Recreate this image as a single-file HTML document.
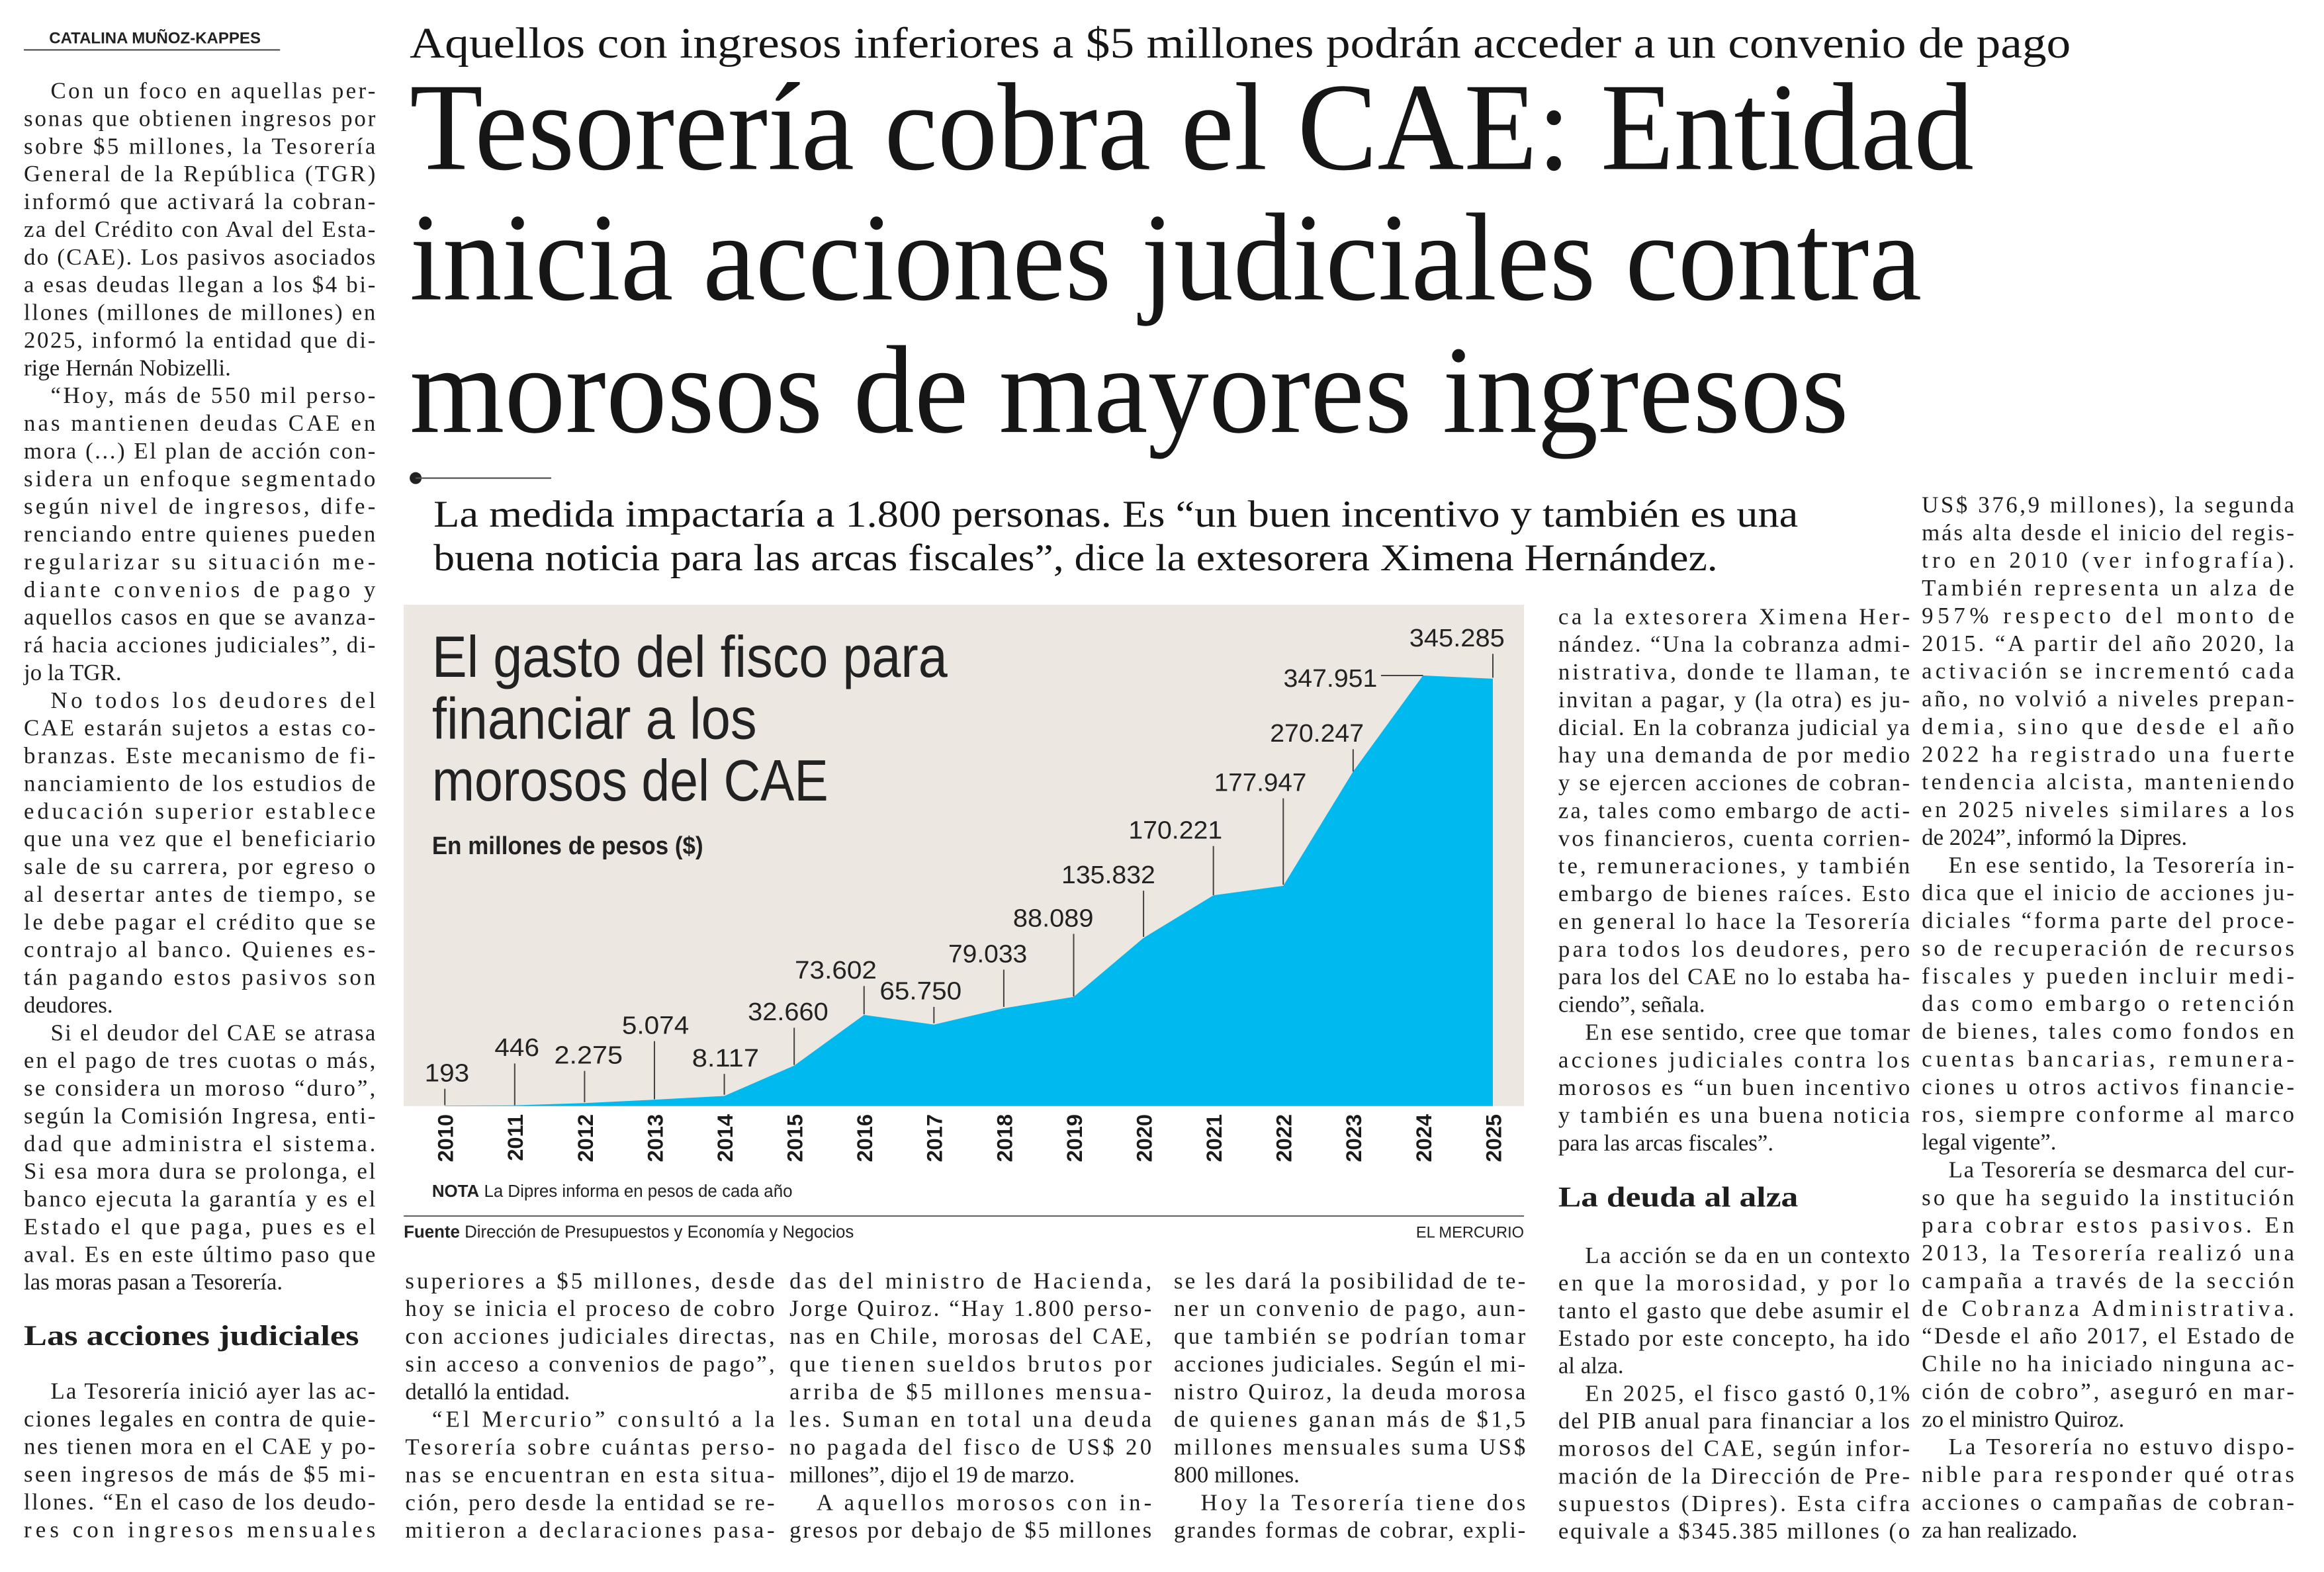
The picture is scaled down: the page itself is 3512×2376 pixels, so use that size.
<!DOCTYPE html>
<html><head><meta charset="utf-8">
<style>
html,body{margin:0;padding:0;background:#fff;}
svg{display:block;}
.b{font-family:"Liberation Serif",serif;font-size:15.5px;fill:#1e1e1e;}
.h{font-family:"Liberation Serif",serif;fill:#161616;}
.n{font-family:"Liberation Sans Narrow","Liberation Sans",sans-serif;fill:#222;}
.y{font-family:"Liberation Sans","Liberation Sans Narrow",sans-serif;font-weight:bold;font-size:14.5px;fill:#1a1a1a;}
</style></head>
<body>
<svg width="3512" height="2376" viewBox="0 0 1560 1055.4" xmlns="http://www.w3.org/2000/svg">
<rect x="0" y="0" width="1560" height="1056" fill="#fff"/>
<!-- byline -->
<text x="33" y="29" class="n" font-size="10.5" font-weight="bold" textLength="142" lengthAdjust="spacingAndGlyphs">CATALINA MUÑOZ-KAPPES</text>
<line x1="16" y1="33.5" x2="188" y2="33.5" stroke="#333" stroke-width="0.8"/>
<!-- deck -->
<text x="275" y="38.7" class="h" font-size="29" textLength="1115" lengthAdjust="spacingAndGlyphs">Aquellos con ingresos inferiores a $5 millones podrán acceder a un convenio de pago</text>
<!-- headline -->
<text x="275" y="113.5" class="h" font-size="84" textLength="1050" lengthAdjust="spacingAndGlyphs">Tesorería cobra el CAE: Entidad</text>
<text x="275" y="201" class="h" font-size="84" textLength="1015" lengthAdjust="spacingAndGlyphs">inicia acciones judiciales contra</text>
<text x="275" y="290" class="h" font-size="84" textLength="966" lengthAdjust="spacingAndGlyphs">morosos de mayores ingresos</text>
<circle cx="279" cy="321" r="4" fill="#222"/>
<line x1="279" y1="321" x2="370" y2="321" stroke="#555" stroke-width="1"/>
<!-- subhead -->
<text x="291" y="353.5" class="h" font-size="25.5" textLength="916" lengthAdjust="spacingAndGlyphs">La medida impactaría a 1.800 personas. Es “un buen incentivo y también es una</text>
<text x="291" y="383" class="h" font-size="25.5" textLength="862" lengthAdjust="spacingAndGlyphs">buena noticia para las arcas fiscales”, dice la extesorera Ximena Hernández.</text>

<!-- LEFT COLUMN -->
<g class="b">
<text x="34" y="66" textLength="218">Con un foco en aquellas per-</text>
<text x="16" y="84.6" textLength="236">sonas que obtienen ingresos por</text>
<text x="16" y="103.2" textLength="236">sobre $5 millones, la Tesorería</text>
<text x="16" y="121.8" textLength="236">General de la República (TGR)</text>
<text x="16" y="140.4" textLength="236">informó que activará la cobran-</text>
<text x="16" y="159" textLength="236">za del Crédito con Aval del Esta-</text>
<text x="16" y="177.6" textLength="236">do (CAE). Los pasivos asociados</text>
<text x="16" y="196.2" textLength="236">a esas deudas llegan a los $4 bi-</text>
<text x="16" y="214.8" textLength="236">llones (millones de millones) en</text>
<text x="16" y="233.4" textLength="236">2025, informó la entidad que di-</text>
<text x="16" y="252">rige Hernán Nobizelli.</text>
<text x="34" y="270.6" textLength="218">“Hoy, más de 550 mil perso-</text>
<text x="16" y="289.2" textLength="236">nas mantienen deudas CAE en</text>
<text x="16" y="307.8" textLength="236">mora (...) El plan de acción con-</text>
<text x="16" y="326.4" textLength="236">sidera un enfoque segmentado</text>
<text x="16" y="345" textLength="236">según nivel de ingresos, dife-</text>
<text x="16" y="363.6" textLength="236">renciando entre quienes pueden</text>
<text x="16" y="382.2" textLength="236">regularizar su situación me-</text>
<text x="16" y="400.8" textLength="236">diante convenios de pago y</text>
<text x="16" y="419.4" textLength="236">aquellos casos en que se avanza-</text>
<text x="16" y="438" textLength="236">rá hacia acciones judiciales”, di-</text>
<text x="16" y="456.6">jo la TGR.</text>
<text x="34" y="475.2" textLength="218">No todos los deudores del</text>
<text x="16" y="493.8" textLength="236">CAE estarán sujetos a estas co-</text>
<text x="16" y="512.4" textLength="236">branzas. Este mecanismo de fi-</text>
<text x="16" y="531" textLength="236">nanciamiento de los estudios de</text>
<text x="16" y="549.6" textLength="236">educación superior establece</text>
<text x="16" y="568.2" textLength="236">que una vez que el beneficiario</text>
<text x="16" y="586.8" textLength="236">sale de su carrera, por egreso o</text>
<text x="16" y="605.4" textLength="236">al desertar antes de tiempo, se</text>
<text x="16" y="624" textLength="236">le debe pagar el crédito que se</text>
<text x="16" y="642.6" textLength="236">contrajo al banco. Quienes es-</text>
<text x="16" y="661.2" textLength="236">tán pagando estos pasivos son</text>
<text x="16" y="679.8">deudores.</text>
<text x="34" y="698.4" textLength="218">Si el deudor del CAE se atrasa</text>
<text x="16" y="717" textLength="236">en el pago de tres cuotas o más,</text>
<text x="16" y="735.6" textLength="236">se considera un moroso “duro”,</text>
<text x="16" y="754.2" textLength="236">según la Comisión Ingresa, enti-</text>
<text x="16" y="772.8" textLength="236">dad que administra el sistema.</text>
<text x="16" y="791.4" textLength="236">Si esa mora dura se prolonga, el</text>
<text x="16" y="810" textLength="236">banco ejecuta la garantía y es el</text>
<text x="16" y="828.6" textLength="236">Estado el que paga, pues es el</text>
<text x="16" y="847.2" textLength="236">aval. Es en este último paso que</text>
<text x="16" y="865.8">las moras pasan a Tesorería.</text>
<text x="16" y="903" font-size="19.5" font-weight="bold" textLength="225" lengthAdjust="spacingAndGlyphs">Las acciones judiciales</text>
<text x="34" y="939" textLength="218">La Tesorería inició ayer las ac-</text>
<text x="16" y="957.6" textLength="236">ciones legales en contra de quie-</text>
<text x="16" y="976.2" textLength="236">nes tienen mora en el CAE y po-</text>
<text x="16" y="994.8" textLength="236">seen ingresos de más de $5 mi-</text>
<text x="16" y="1013.4" textLength="236">llones. “En el caso de los deudo-</text>
<text x="16" y="1032" textLength="236">res con ingresos mensuales</text>
</g>

<!-- CHART -->
<rect x="271" y="406" width="752" height="336.6" fill="#ece7e1"/>
<text x="290" y="454.3" class="n" font-size="39" textLength="346" lengthAdjust="spacingAndGlyphs">El gasto del fisco para</text>
<text x="290" y="496" class="n" font-size="39" textLength="218" lengthAdjust="spacingAndGlyphs">financiar a los</text>
<text x="290" y="537.5" class="n" font-size="39" textLength="266" lengthAdjust="spacingAndGlyphs">morosos del CAE</text>
<text x="290" y="573.5" class="n" font-size="17" font-weight="bold" textLength="182" lengthAdjust="spacingAndGlyphs">En millones de pesos ($)</text>
<polygon fill="#00b9ee" points="298.6,742.6 298.6,742.3 345.5,742.1 392.4,740.6 439.3,738.3 486.2,735.8 533.1,715.4 580,681.4 626.9,687.9 673.8,676.9 720.7,669.3 767.6,629.7 814.5,601.1 861.4,594.7 908.3,518 955.2,453.5 1002.1,455.7 1002.1,742.6"/>
<g stroke="#444" stroke-width="0.9">
<line x1="298.6" y1="742" x2="298.6" y2="731"/>
<line x1="345.5" y1="742" x2="345.5" y2="714"/>
<line x1="392.4" y1="740" x2="392.4" y2="719"/>
<line x1="439.3" y1="738" x2="439.3" y2="699"/>
<line x1="486.2" y1="735" x2="486.2" y2="721"/>
<line x1="533.1" y1="715" x2="533.1" y2="690"/>
<line x1="580" y1="681" x2="580" y2="662"/>
<line x1="626.9" y1="687" x2="626.9" y2="676"/>
<line x1="673.8" y1="676" x2="673.8" y2="651"/>
<line x1="720.7" y1="669" x2="720.7" y2="627"/>
<line x1="767.6" y1="629" x2="767.6" y2="598"/>
<line x1="814.5" y1="601" x2="814.5" y2="568"/>
<line x1="861.4" y1="594" x2="861.4" y2="536"/>
<line x1="908.3" y1="518" x2="908.3" y2="503"/>
<line x1="927" y1="453.5" x2="955.2" y2="453.5"/>
<line x1="1002.1" y1="455" x2="1002.1" y2="439"/>
</g>
<g class="n" font-size="17" text-anchor="middle" lengthAdjust="spacingAndGlyphs">
<text x="300" y="726" textLength="30" lengthAdjust="spacingAndGlyphs">193</text>
<text x="347" y="709" textLength="30" lengthAdjust="spacingAndGlyphs">446</text>
<text x="395" y="714" textLength="46" lengthAdjust="spacingAndGlyphs">2.275</text>
<text x="440" y="694" textLength="45" lengthAdjust="spacingAndGlyphs">5.074</text>
<text x="487" y="716" textLength="45" lengthAdjust="spacingAndGlyphs">8.117</text>
<text x="529" y="685" textLength="54" lengthAdjust="spacingAndGlyphs">32.660</text>
<text x="561" y="657" textLength="55" lengthAdjust="spacingAndGlyphs">73.602</text>
<text x="618" y="671" textLength="55" lengthAdjust="spacingAndGlyphs">65.750</text>
<text x="663" y="646" textLength="53" lengthAdjust="spacingAndGlyphs">79.033</text>
<text x="707" y="622" textLength="54" lengthAdjust="spacingAndGlyphs">88.089</text>
<text x="744" y="593" textLength="63" lengthAdjust="spacingAndGlyphs">135.832</text>
<text x="789" y="563" textLength="63" lengthAdjust="spacingAndGlyphs">170.221</text>
<text x="846" y="531" textLength="62" lengthAdjust="spacingAndGlyphs">177.947</text>
<text x="884" y="498" textLength="63" lengthAdjust="spacingAndGlyphs">270.247</text>
<text x="893" y="461" textLength="63" lengthAdjust="spacingAndGlyphs">347.951</text>
<text x="978" y="434" textLength="64" lengthAdjust="spacingAndGlyphs">345.285</text>
</g>
<g class="y" text-anchor="end">
<text transform="translate(304,748) rotate(-90)">2010</text>
<text transform="translate(351,748) rotate(-90)">2011</text>
<text transform="translate(398,748) rotate(-90)">2012</text>
<text transform="translate(444.8,748) rotate(-90)">2013</text>
<text transform="translate(491.7,748) rotate(-90)">2014</text>
<text transform="translate(538.6,748) rotate(-90)">2015</text>
<text transform="translate(585.5,748) rotate(-90)">2016</text>
<text transform="translate(632.4,748) rotate(-90)">2017</text>
<text transform="translate(679.3,748) rotate(-90)">2018</text>
<text transform="translate(726.2,748) rotate(-90)">2019</text>
<text transform="translate(773.1,748) rotate(-90)">2020</text>
<text transform="translate(820,748) rotate(-90)">2021</text>
<text transform="translate(866.9,748) rotate(-90)">2022</text>
<text transform="translate(913.8,748) rotate(-90)">2023</text>
<text transform="translate(960.7,748) rotate(-90)">2024</text>
<text transform="translate(1007.6,748) rotate(-90)">2025</text>
</g>
<text x="290" y="803.5" class="n" font-size="11.5"><tspan font-weight="bold">NOTA</tspan>  La Dipres informa en pesos de cada año</text>
<line x1="271" y1="816.4" x2="1023" y2="816.4" stroke="#555" stroke-width="0.8"/>
<text x="271" y="830.8" class="n" font-size="11.5"><tspan font-weight="bold">Fuente</tspan>  Dirección de Presupuestos y Economía y Negocios</text>
<text x="1023" y="830.8" class="n" font-size="10.5" text-anchor="end">EL MERCURIO</text>

<!-- MIDDLE COLUMN -->
<g class="b">
<text x="1046" y="419" textLength="236">ca la extesorera Ximena Her-</text>
<text x="1046" y="437.6" textLength="236">nández. “Una la cobranza admi-</text>
<text x="1046" y="456.2" textLength="236">nistrativa, donde te llaman, te</text>
<text x="1046" y="474.8" textLength="236">invitan a pagar, y (la otra) es ju-</text>
<text x="1046" y="493.4" textLength="236">dicial. En la cobranza judicial ya</text>
<text x="1046" y="512" textLength="236">hay una demanda de por medio</text>
<text x="1046" y="530.6" textLength="236">y se ejercen acciones de cobran-</text>
<text x="1046" y="549.2" textLength="236">za, tales como embargo de acti-</text>
<text x="1046" y="567.8" textLength="236">vos financieros, cuenta corrien-</text>
<text x="1046" y="586.4" textLength="236">te, remuneraciones, y también</text>
<text x="1046" y="605" textLength="236">embargo de bienes raíces. Esto</text>
<text x="1046" y="623.6" textLength="236">en general lo hace la Tesorería</text>
<text x="1046" y="642.2" textLength="236">para todos los deudores, pero</text>
<text x="1046" y="660.8" textLength="236">para los del CAE no lo estaba ha-</text>
<text x="1046" y="679.4">ciendo”, señala.</text>
<text x="1064" y="698" textLength="218">En ese sentido, cree que tomar</text>
<text x="1046" y="716.6" textLength="236">acciones judiciales contra los</text>
<text x="1046" y="735.2" textLength="236">morosos es “un buen incentivo</text>
<text x="1046" y="753.8" textLength="236">y también es una buena noticia</text>
<text x="1046" y="772.4">para las arcas fiscales”.</text>
<text x="1046" y="810" font-size="19.5" font-weight="bold" textLength="161" lengthAdjust="spacingAndGlyphs">La deuda al alza</text>
<text x="1064" y="848" textLength="218">La acción se da en un contexto</text>
<text x="1046" y="866.5" textLength="236">en que la morosidad, y por lo</text>
<text x="1046" y="885" textLength="236">tanto el gasto que debe asumir el</text>
<text x="1046" y="903.5" textLength="236">Estado por este concepto, ha ido</text>
<text x="1046" y="922">al alza.</text>
<text x="1064" y="940.5" textLength="218">En 2025, el fisco gastó 0,1%</text>
<text x="1046" y="959" textLength="236">del PIB anual para financiar a los</text>
<text x="1046" y="977.5" textLength="236">morosos del CAE, según infor-</text>
<text x="1046" y="996" textLength="236">mación de la Dirección de Pre-</text>
<text x="1046" y="1014.5" textLength="236">supuestos (Dipres). Esta cifra</text>
<text x="1046" y="1033" textLength="236">equivale a $345.385 millones (o</text>
</g>

<!-- RIGHT COLUMN -->
<g class="b">
<text x="1290" y="344" textLength="250">US$ 376,9 millones), la segunda</text>
<text x="1290" y="362.6" textLength="250">más alta desde el inicio del regis-</text>
<text x="1290" y="381.2" textLength="250">tro en 2010 (ver infografía).</text>
<text x="1290" y="399.8" textLength="250">También representa un alza de</text>
<text x="1290" y="418.4" textLength="250">957% respecto del monto de</text>
<text x="1290" y="437" textLength="250">2015. “A partir del año 2020, la</text>
<text x="1290" y="455.6" textLength="250">activación se incrementó cada</text>
<text x="1290" y="474.2" textLength="250">año, no volvió a niveles prepan-</text>
<text x="1290" y="492.8" textLength="250">demia, sino que desde el año</text>
<text x="1290" y="511.4" textLength="250">2022 ha registrado una fuerte</text>
<text x="1290" y="530" textLength="250">tendencia alcista, manteniendo</text>
<text x="1290" y="548.6" textLength="250">en 2025 niveles similares a los</text>
<text x="1290" y="567.2">de 2024”, informó la Dipres.</text>
<text x="1308" y="585.8" textLength="232">En ese sentido, la Tesorería in-</text>
<text x="1290" y="604.4" textLength="250">dica que el inicio de acciones ju-</text>
<text x="1290" y="623" textLength="250">diciales “forma parte del proce-</text>
<text x="1290" y="641.6" textLength="250">so de recuperación de recursos</text>
<text x="1290" y="660.2" textLength="250">fiscales y pueden incluir medi-</text>
<text x="1290" y="678.8" textLength="250">das como embargo o retención</text>
<text x="1290" y="697.4" textLength="250">de bienes, tales como fondos en</text>
<text x="1290" y="716" textLength="250">cuentas bancarias, remunera-</text>
<text x="1290" y="734.6" textLength="250">ciones u otros activos financie-</text>
<text x="1290" y="753.2" textLength="250">ros, siempre conforme al marco</text>
<text x="1290" y="771.8">legal vigente”.</text>
<text x="1308" y="790.4" textLength="232">La Tesorería se desmarca del cur-</text>
<text x="1290" y="809" textLength="250">so que ha seguido la institución</text>
<text x="1290" y="827.6" textLength="250">para cobrar estos pasivos. En</text>
<text x="1290" y="846.2" textLength="250">2013, la Tesorería realizó una</text>
<text x="1290" y="864.8" textLength="250">campaña a través de la sección</text>
<text x="1290" y="883.4" textLength="250">de Cobranza Administrativa.</text>
<text x="1290" y="902" textLength="250">“Desde el año 2017, el Estado de</text>
<text x="1290" y="920.6" textLength="250">Chile no ha iniciado ninguna ac-</text>
<text x="1290" y="939.2" textLength="250">ción de cobro”, aseguró en mar-</text>
<text x="1290" y="957.8">zo el ministro Quiroz.</text>
<text x="1308" y="976.4" textLength="232">La Tesorería no estuvo dispo-</text>
<text x="1290" y="995" textLength="250">nible para responder qué otras</text>
<text x="1290" y="1013.6" textLength="250">acciones o campañas de cobran-</text>
<text x="1290" y="1032.2">za han realizado.</text>
</g>

<!-- BOTTOM COLUMNS -->
<g class="b">
<text x="272" y="865" textLength="248">superiores a $5 millones, desde</text>
<text x="272" y="883.6" textLength="248">hoy se inicia el proceso de cobro</text>
<text x="272" y="902.2" textLength="248">con acciones judiciales directas,</text>
<text x="272" y="920.8" textLength="248">sin acceso a convenios de pago”,</text>
<text x="272" y="939.4">detalló la entidad.</text>
<text x="290" y="958" textLength="230">“El Mercurio” consultó a la</text>
<text x="272" y="976.6" textLength="248">Tesorería sobre cuántas perso-</text>
<text x="272" y="995.2" textLength="248">nas se encuentran en esta situa-</text>
<text x="272" y="1013.8" textLength="248">ción, pero desde la entidad se re-</text>
<text x="272" y="1032.4" textLength="248">mitieron a declaraciones pasa-</text>

<text x="530" y="865" textLength="243">das del ministro de Hacienda,</text>
<text x="530" y="883.6" textLength="243">Jorge Quiroz. “Hay 1.800 perso-</text>
<text x="530" y="902.2" textLength="243">nas en Chile, morosas del CAE,</text>
<text x="530" y="920.8" textLength="243">que tienen sueldos brutos por</text>
<text x="530" y="939.4" textLength="243">arriba de $5 millones mensua-</text>
<text x="530" y="958" textLength="243">les. Suman en total una deuda</text>
<text x="530" y="976.6" textLength="243">no pagada del fisco de US$ 20</text>
<text x="530" y="995.2">millones”, dijo el 19 de marzo.</text>
<text x="548" y="1013.8" textLength="225">A aquellos morosos con in-</text>
<text x="530" y="1032.4" textLength="243">gresos por debajo de $5 millones</text>

<text x="788" y="865" textLength="236">se les dará la posibilidad de te-</text>
<text x="788" y="883.6" textLength="236">ner un convenio de pago, aun-</text>
<text x="788" y="902.2" textLength="236">que también se podrían tomar</text>
<text x="788" y="920.8" textLength="236">acciones judiciales. Según el mi-</text>
<text x="788" y="939.4" textLength="236">nistro Quiroz, la deuda morosa</text>
<text x="788" y="958" textLength="236">de quienes ganan más de $1,5</text>
<text x="788" y="976.6" textLength="236">millones mensuales suma US$</text>
<text x="788" y="995.2">800 millones.</text>
<text x="806" y="1013.8" textLength="218">Hoy la Tesorería tiene dos</text>
<text x="788" y="1032.4" textLength="236">grandes formas de cobrar, expli-</text>
</g>
</svg>
</body></html>
